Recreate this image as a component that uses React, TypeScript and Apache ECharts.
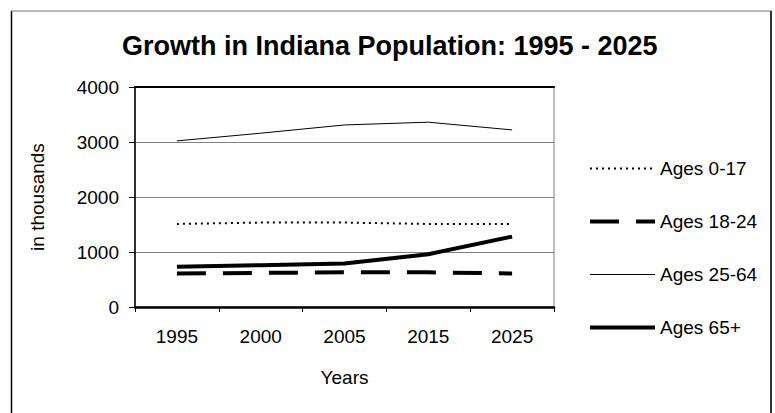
import React, { useEffect, useRef } from "react";
import * as echarts from "echarts";

const years = ["1995", "2000", "2005", "2015", "2025"];
const ages0to17 = [1510, 1535, 1535, 1510, 1510];
const ages18to24 = [610, 620, 630, 630, 610];
const ages25to64 = [3020, 3160, 3310, 3360, 3220];
const ages65plus = [730, 760, 790, 960, 1280];
const seriesNames = ["Ages 0-17", "Ages 18-24", "Ages 25-64", "Ages 65+"];

const FONT = "Arial, 'Liberation Sans', sans-serif";

const widths = [2, 4, 1, 4];
const types: any[] = [[2, 4], [29, 17], "solid", "solid"];

export default function App() {
  const ref = useRef<HTMLDivElement>(null);
  useEffect(() => {
    if (!ref.current) return;
    const chart = echarts.init(ref.current, undefined, { renderer: "svg" });
    const mk = (i: number, data: number[]) => ({
      name: seriesNames[i],
      type: "line",
      data,
      symbol: "none",
      color: "#000",
      lineStyle: { color: "#000", width: widths[i], type: types[i], cap: "butt" },
    });
    chart.setOption({
      animation: false,
      backgroundColor: "#fff",
      textStyle: { fontFamily: FONT },
      title: {
        text: "Growth in Indiana Population: 1995 - 2025",
        left: 122,
        top: 32,
        padding: 0,
        textStyle: { fontFamily: FONT, fontSize: 27, fontWeight: "bold", color: "#000" },
      },
      grid: {
        left: 135,
        top: 87,
        width: 419,
        height: 220,
        show: true,
        borderColor: "#808080",
        borderWidth: 1,
        containLabel: false,
      },
      legend: {
        orient: "vertical",
        left: 588,
        top: 159,
        itemWidth: 65,
        itemHeight: 16,
        itemGap: 34,
        padding: 0,
        data: seriesNames.map((n, i) => ({
          name: n,
          lineStyle: { color: "#000", width: widths[i], type: types[i], cap: "butt" },
        })),
        itemStyle: { opacity: 0 },
        textStyle: { fontFamily: FONT, fontSize: 19, color: "#000" },
      },
      xAxis: [
        {
          type: "category",
          data: years,
          boundaryGap: true,
          name: "Years",
          nameLocation: "middle",
          nameGap: 61,
          nameTextStyle: { fontFamily: FONT, fontSize: 19, color: "#000" },
          axisLine: { lineStyle: { color: "#000", width: 2.5 } },
          axisTick: { show: true, length: 5, lineStyle: { color: "#000", width: 1 } },
          axisLabel: { fontFamily: FONT, fontSize: 19, color: "#000", margin: 20 },
          splitLine: { show: false },
        },
        {
          type: "category",
          data: years,
          position: "top",
          axisLine: { lineStyle: { color: "#000", width: 2 } },
          axisTick: { show: false },
          axisLabel: { show: false },
          splitLine: { show: false },
        },
      ],
      yAxis: {
        type: "value",
        min: 0,
        max: 4000,
        interval: 1000,
        name: "in thousands",
        nameLocation: "middle",
        nameRotate: 90,
        nameGap: 88,
        nameTextStyle: { fontFamily: FONT, fontSize: 19, color: "#000" },
        axisLine: { show: true, lineStyle: { color: "#000", width: 1.5 } },
        axisTick: { show: true, length: 6, lineStyle: { color: "#000", width: 1 } },
        axisLabel: {
          fontFamily: FONT,
          fontSize: 19,
          color: "#000",
          margin: 16,
          formatter: (v: number) => String(v),
        },
        splitLine: { show: true, lineStyle: { color: "#808080", width: 1 } },
      },
      series: [
        mk(0, ages0to17),
        mk(1, ages18to24),
        mk(2, ages25to64),
        mk(3, ages65plus),
      ],
      graphic: [
        { type: "line", shape: { x1: 11.5, y1: 11, x2: 11.5, y2: 413 }, style: { stroke: "#000", lineWidth: 1.5 } },
        { type: "line", shape: { x1: 11, y1: 11, x2: 772, y2: 11 }, style: { stroke: "#777", lineWidth: 1 } },
        { type: "line", shape: { x1: 771, y1: 11, x2: 771, y2: 413 }, style: { stroke: "#333", lineWidth: 2 } },
      ],
    });
    return () => chart.dispose();
  }, []);
  return (
    <div
      ref={ref}
      style={{ position: "fixed", left: 0, top: 0, width: 775, height: 413 }}
    />
  );
}
